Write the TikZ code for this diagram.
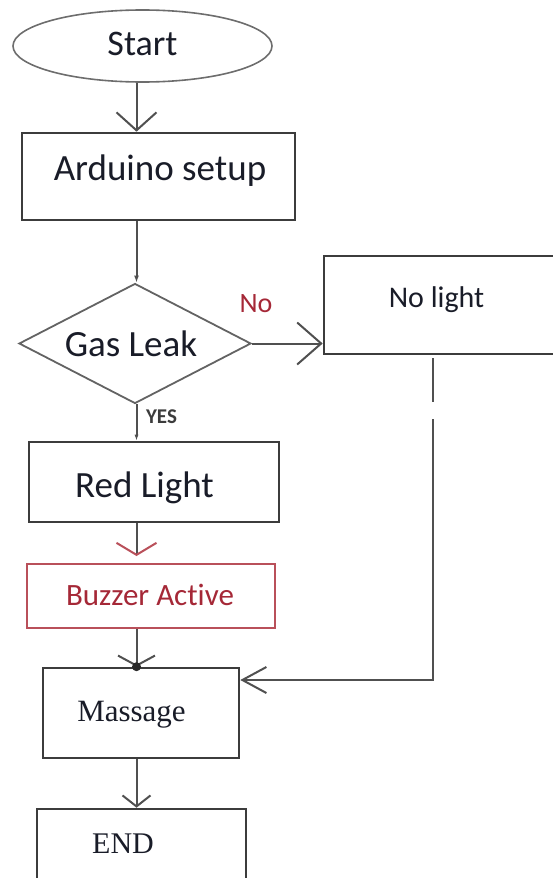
\documentclass[tikz,border=0pt]{standalone}
\usepackage{fontspec}
\setmainfont{Carlito}[Ligatures=NoCommon]
\newfontfamily\serifface{Liberation Serif}
\usepackage{xcolor}
\definecolor{Ink}{RGB}{25,28,40}
\definecolor{Col1}{RGB}{60,60,60}
\definecolor{Col2}{RGB}{165,40,55}
\definecolor{Col3}{RGB}{185,80,90}
\usepackage{tikz}
\usetikzlibrary{shapes}
\usetikzlibrary{arrows.meta}
\tikzstyle{Box}=[rectangle,draw=Col1,line width=2.6pt,inner sep=0pt]
\tikzstyle{Edge}=[draw=Col1!90,line width=2pt]
\tikzstyle{NodeST}=[inner sep=0pt,anchor=base,text=Ink]
\tikzstyle{Big}=[font=\fontsize{37}{40}\selectfont]
\tikzstyle{Mid}=[font=\fontsize{30}{34}\selectfont]

\begin{document}
\begin{tikzpicture}[x=1pt,y=-1pt]
    \useasboundingbox(0,0)rectangle(552,878);
    \coordinate(axis)at(136.5,0);
    \node[ellipse,draw=Col1!75,line width=1.6pt,inner sep=0pt,
        minimum width=259pt,minimum height=72pt](start)at(142.5,46){};
    \node[Box,minimum width=273pt,minimum height=87pt](setup)at(158.5,176.5){};
    \node[diamond,draw=Col1!80,line width=1.8pt,inner sep=0pt,
        minimum width=232pt,minimum height=120pt](leak)at(135,343.5){};
    \node[Box,minimum width=232pt,minimum height=98pt](nolight)at(440,305){};
    \node[Box,minimum width=250pt,minimum height=80pt](red)at(154,482){};
    \node[Box,draw=Col3,line width=2pt,
        minimum width=248pt,minimum height=64pt](buzzer)at(151,596){};
    \node[Box,minimum width=196pt,minimum height=90pt](msg)at(141,713){};
    \node[Box,minimum width=209pt,minimum height=75pt](end)at(141.5,846.5){};
    % texts
    \node[NodeST,font=\fontsize{36}{40}\selectfont](start-t)at(142.5,55){Start};
    \node[NodeST,Big](setup-t)at(160,180){Arduino setup};
    \node[NodeST,Big](leak-t)at(131,356){Gas Leak};
    \node[NodeST,text=Col2,font=\fontsize{28}{32}\selectfont](no-t)at(256,312){No};
    \node[NodeST,Mid](nolight-t)at(436.5,307){No light};
    \node[NodeST,text=Col1,font=\fontsize{21}{24}\selectfont\bfseries](yes-t)at(161.5,423){YES};
    \node[NodeST,Big](red-t)at(144.5,497){Red Light};
    \node[NodeST,text=Col2,font=\fontsize{31}{34}\selectfont](buzzer-t)at(150,605){Buzzer Active};
    \node[NodeST,font=\fontsize{31}{34}\selectfont\serifface](msg-t)at(131.5,721){Massage};
    \node[NodeST,font=\fontsize{30}{34}\selectfont\serifface](end-t)at(123,853){END};
    % connectors
    \draw[Edge,-{Straight Barb[length=18pt,width=40pt]}](start.south -| axis)--(setup.north -| axis);
    \draw[Edge,-{Latex[length=7pt,width=5pt]}](setup.south -| axis)--(leak.north -| axis);
    \draw[Edge,-{Latex[length=6pt,width=4pt]}](leak.south -| axis)--(red.north -| axis);
    \draw[Edge,shorten >=7pt,-{Straight Barb[length=12pt,width=40pt,color=Col3]}]
        (red.south -| axis)--(buzzer.north -| axis);
    \draw[Edge,-{Straight Barb[length=10pt,width=37pt]}](buzzer.south -| axis)--(msg.north -| axis);
    \fill[Col1!70!black](msg.north -| axis)circle(4.5pt);
    \draw[Edge,-{Straight Barb[length=11pt,width=28pt]}](msg.south -| axis)--(end.north -| axis);
    \draw[Edge,-{Straight Barb[length=24pt,width=42pt]}](leak.east)--(leak.east -| nolight.west);
    \coordinate(gapA)at(433,402);
    \coordinate(gapB)at(433,419);
    \coordinate(turn)at(433,680);
    \draw[Edge,shorten <=3pt](nolight.south -| gapA)--(gapA);
    \draw[Edge,-{Straight Barb[length=24pt,width=26pt]}](gapB)--(turn)--(turn -| msg.east);
\end{tikzpicture}
\end{document}
